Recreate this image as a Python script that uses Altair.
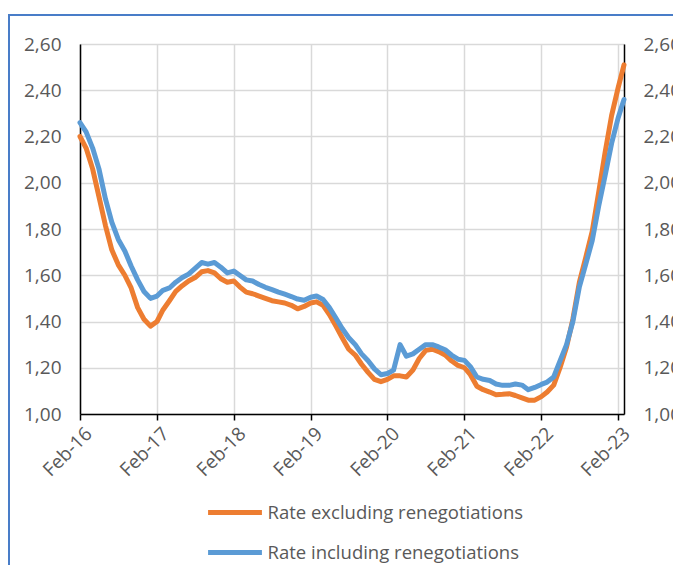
import altair as alt
import pandas as pd

# Monthly series, Feb-2016 .. Mar-2023
start_month = "2016-02-01"
n_months = 86

rate_excl = [
    2.20, 2.15, 2.06, 1.94, 1.815, 1.71, 1.645, 1.60, 1.545, 1.46,
    1.41, 1.38, 1.40, 1.45, 1.49, 1.53, 1.555, 1.575, 1.59, 1.615,
    1.62, 1.61, 1.585, 1.57, 1.575, 1.55, 1.527, 1.52, 1.51, 1.50,
    1.49, 1.485, 1.48, 1.47, 1.455, 1.465, 1.48, 1.485, 1.47, 1.43,
    1.38, 1.33, 1.28, 1.255, 1.215, 1.18, 1.15, 1.14, 1.15, 1.165,
    1.165, 1.16, 1.19, 1.24, 1.275, 1.28, 1.27, 1.255, 1.23, 1.21,
    1.20, 1.17, 1.12, 1.105, 1.095, 1.083, 1.085, 1.088, 1.08, 1.07,
    1.06, 1.06, 1.075, 1.095, 1.125, 1.20, 1.29, 1.41, 1.57, 1.68,
    1.79, 1.96, 2.13, 2.29, 2.41, 2.51,
]
rate_incl = [
    2.26, 2.22, 2.15, 2.06, 1.93, 1.83, 1.755, 1.705, 1.64, 1.58,
    1.53, 1.50, 1.51, 1.535, 1.545, 1.57, 1.59, 1.605, 1.63, 1.655,
    1.648, 1.655, 1.635, 1.61, 1.618, 1.60, 1.58, 1.575, 1.56, 1.548,
    1.538, 1.527, 1.518, 1.508, 1.497, 1.492, 1.505, 1.51, 1.495, 1.46,
    1.415, 1.37, 1.33, 1.30, 1.26, 1.23, 1.195, 1.17, 1.175, 1.19,
    1.30, 1.25, 1.26, 1.28, 1.30, 1.30, 1.29, 1.278, 1.255, 1.237,
    1.232, 1.205, 1.16, 1.15, 1.145, 1.13, 1.124, 1.124, 1.13, 1.125,
    1.105, 1.115, 1.128, 1.138, 1.16, 1.23, 1.30, 1.40, 1.55, 1.65,
    1.75, 1.90, 2.03, 2.17, 2.28, 2.36,
]
series_names = ["Rate excluding renegotiations", "Rate including renegotiations"]
series_colors = ["#ED7D31", "#5B9BD5"]
y_ticks = [1.0, 1.2, 1.4, 1.6, 1.8, 2.0, 2.2, 2.4, 2.6]
x_tick_years = [2016, 2017, 2018, 2019, 2020, 2021, 2022, 2023]

months = pd.date_range(start_month, periods=n_months, freq="MS")
rows = []
for name, vals in zip(series_names, [rate_excl, rate_incl]):
    for d, v in zip(months, vals):
        rows.append({"date": d.strftime("%Y-%m-%d"), "series": name, "value": v})
df = pd.DataFrame(rows)

FONT = "Open Sans"
LABEL_COLOR = "#595959"

x_enc = alt.X(
    "date:T",
    scale=alt.Scale(
        type="utc",
        domain=[alt.DateTime(year=2016, month=2, date=1, utc=True),
                alt.DateTime(year=2023, month=3, date=1, utc=True)],
    ),
    axis=alt.Axis(
        title=None,
        values=[alt.DateTime(year=y, month=2, date=1, utc=True) for y in x_tick_years],
        labelExpr="utcFormat(datum.value, '%b-%y')",
        labelAngle=-45,
        labelAlign="right",
        labelBaseline="top",
        labelPadding=4,
        labelOffset=2,
        labelFont=FONT,
        labelFontSize=19,
        labelColor=LABEL_COLOR,
        tickColor="black",
        tickSize=6,
        tickWidth=1.5,
        domainColor="black",
        domainWidth=1.5,
        grid=True,
        gridColor="#D9D9D9",
        gridWidth=1.5,
    ),
)

y_scale = alt.Scale(domain=[1.0, 2.6], nice=False, zero=False)
label_expr = "replace(format(datum.value, '.2f'), '.', ',')"

lines = alt.Chart(df).mark_line(strokeWidth=5, strokeCap="round", strokeJoin="round").encode(
    x=x_enc,
    y=alt.Y(
        "value:Q",
        scale=y_scale,
        axis=alt.Axis(
            title=None, values=y_ticks, labelExpr=label_expr, orient="left",
            ticks=False, labelPadding=19, labelFont=FONT, labelFontSize=19,
            labelColor=LABEL_COLOR, domainColor="black", domainWidth=1.5,
            grid=True, gridColor="#D9D9D9", gridWidth=1.5,
        ),
    ),
    color=alt.Color(
        "series:N",
        scale=alt.Scale(domain=series_names, range=series_colors),
        legend=alt.Legend(
            title=None, orient="none", legendX=125.5, legendY=439, direction="vertical",
            symbolType="stroke", symbolSize=2900, symbolStrokeWidth=5,
            labelFont=FONT, labelFontSize=18.5, labelColor=LABEL_COLOR,
            labelOffset=3, labelLimit=500, rowPadding=-22, padding=0,
        ),
    ),
)

right_axis = alt.Chart(df).mark_line(strokeOpacity=0).encode(
    x=x_enc,
    y=alt.Y(
        "value:Q",
        scale=y_scale,
        axis=alt.Axis(
            title=None, values=y_ticks, labelExpr=label_expr, orient="right",
            ticks=False, labelPadding=19, labelFont=FONT, labelFontSize=19,
            labelColor=LABEL_COLOR, domainColor="black", domainWidth=1.5,
            grid=False,
        ),
    ),
)

frame = alt.Chart(df).mark_rect(fillOpacity=0, stroke="#4A7EC8", strokeWidth=1.5).encode(
    x=alt.value(-71), x2=alt.value(800), y=alt.value(-29), y2=alt.value(800)
)

chart = alt.layer(frame, lines, right_axis).resolve_scale(y="independent").properties(
    width=544, height=370,
    autosize=alt.AutoSizeParams(type="none"),
    padding={"left": 72, "top": 36, "right": 49, "bottom": 151},
).configure_view(stroke="black", strokeWidth=1.5).configure(background="white")

chart.save("out.html", embed_options={"renderer": "svg", "actions": False})
